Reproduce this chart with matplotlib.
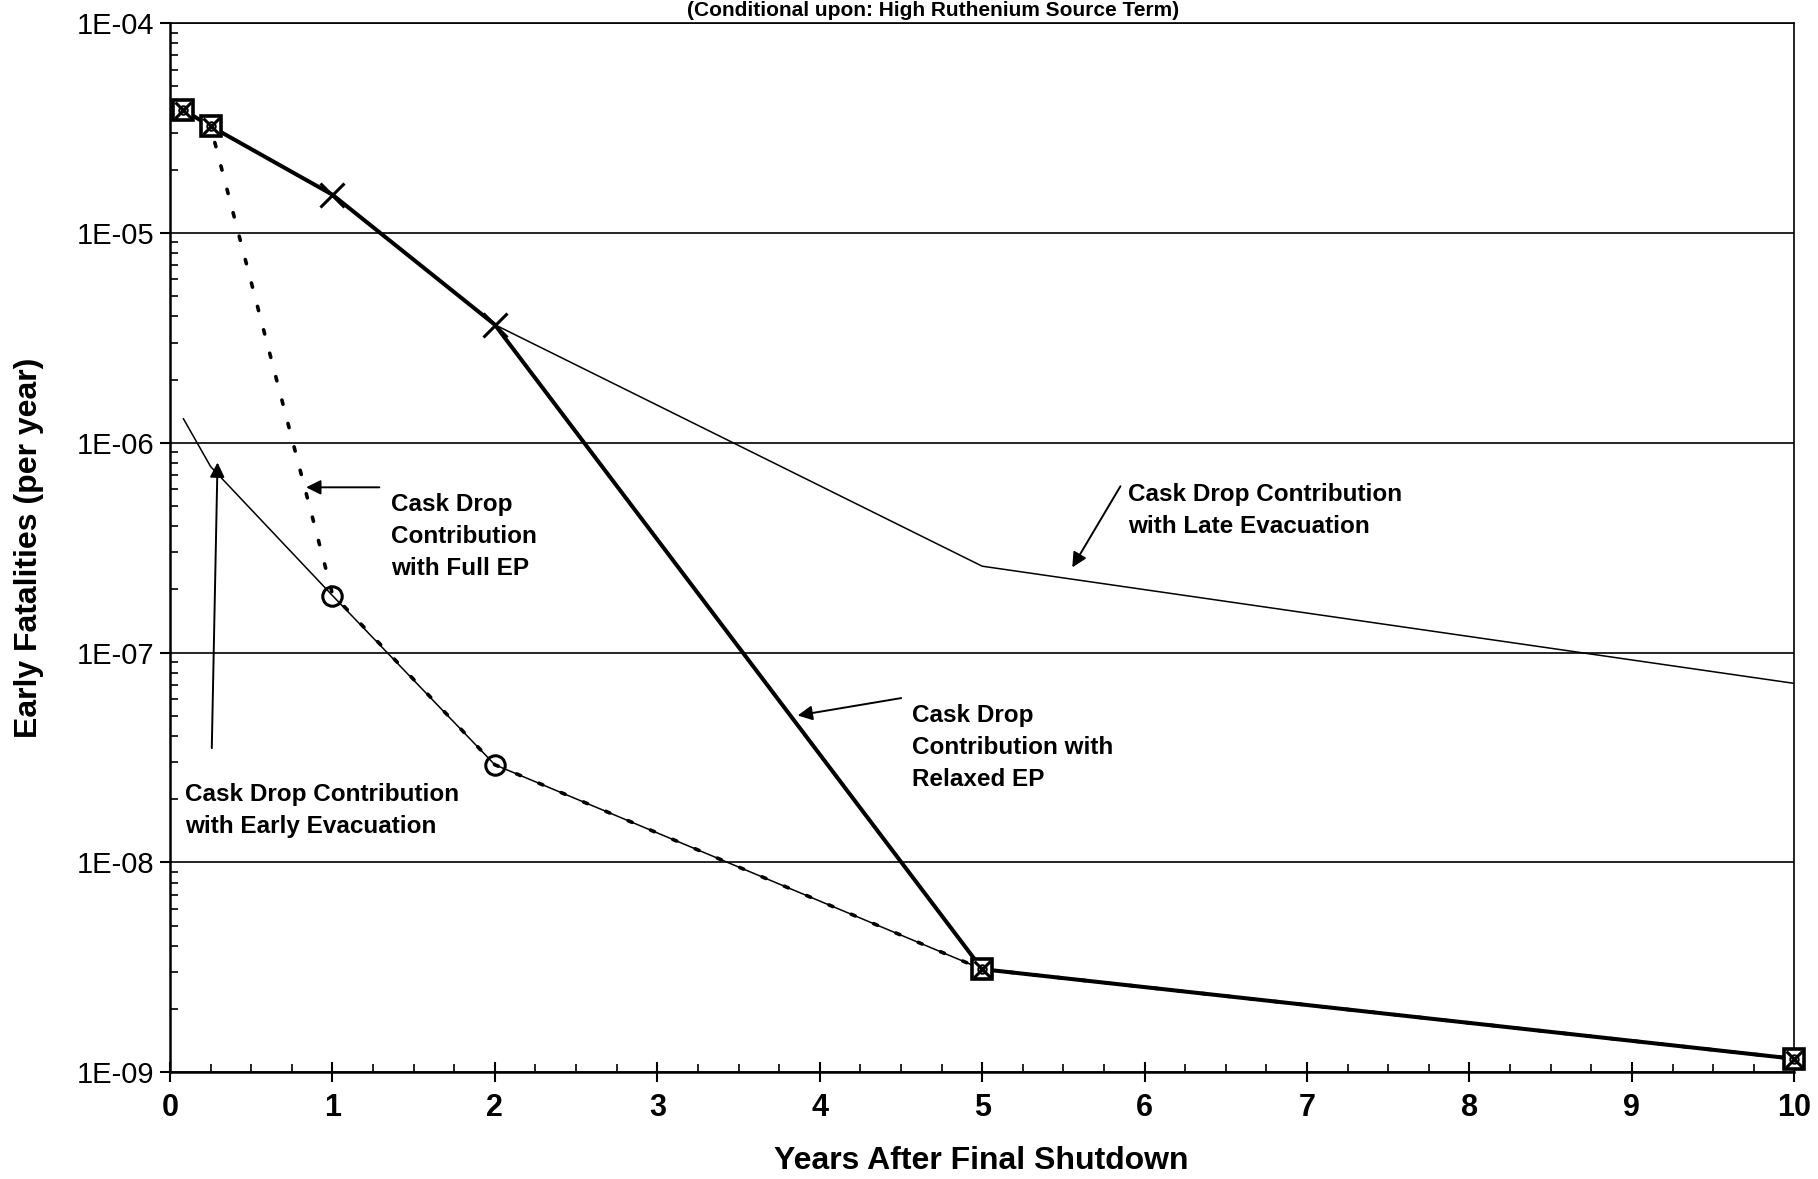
import numpy as np
import matplotlib
matplotlib.use("Agg")
import matplotlib.pyplot as plt
from matplotlib.ticker import FixedLocator, LogLocator, NullFormatter

plt.rcParams["font.family"] = ["Liberation Sans", "DejaVu Sans"]

# Years after final shutdown at which each case was evaluated
years = [0.083, 0.25, 1, 2, 5, 10]

# Early fatalities (per year) for each evacuation / EP case
relaxed_ep = [3.85e-5, 3.22e-5, 1.52e-5, 3.65e-6, 3.1e-9, 1.16e-9]
late_evac = [3.85e-5, 3.22e-5, 1.52e-5, 3.65e-6, 2.58e-7, 7.13e-8]
full_ep = [3.85e-5, 3.22e-5, 1.9e-7, 2.92e-8, 3.1e-9, 1.16e-9]
early_evac = [1.3e-6, 7.7e-7, 1.87e-7, 2.92e-8, 3.1e-9, 1.16e-9]

# points where the curves meet and carry the boxed marker
shared_idx = [0, 1, 4, 5]

x_ticks = [0, 1, 2, 3, 4, 5, 6, 7, 8, 9, 10]
y_ticks = [1e-9, 1e-8, 1e-7, 1e-6, 1e-5, 1e-4]
y_tick_labels = ["1E-09", "1E-08", "1E-07", "1E-06", "1E-05", "1E-04"]

fig = plt.figure(figsize=(18.18, 11.79), dpi=100)
ax = fig.add_axes([0.0935, 0.0905, 0.8935, 0.890])

# late evacuation (thin) and relaxed EP (thick)
ax.plot(years, late_evac, color="black", lw=1.1, zorder=3)
ax.plot(years, relaxed_ep, color="black", lw=2.9, zorder=4,
        marker="x", markevery=[2, 3], ms=17, mew=2.2)

# early evacuation with open circles
ax.plot(years, early_evac, color="black", lw=1.1, zorder=3,
        marker="o", markevery=[2, 3], ms=14, mfc="none", mew=2.2)

# full EP drawn as a heavy dotted line
ax.plot(years, full_ep, color="black", lw=2.6, zorder=5,
        linestyle=(0, (1.2, 5.5)), dash_capstyle="round")

# boxed markers on the shared points
sx = np.take(years, shared_idx)
sy = np.take(full_ep, shared_idx)
ax.plot(sx, sy, ls="none", marker="s", ms=15, mfc="white", mec="black", mew=2.6,
        zorder=6, clip_on=False)
ax.plot(sx, sy, ls="none", marker="x", ms=11, mec="black", mew=2.2, zorder=7, clip_on=False)
ax.plot(sx, sy, ls="none", marker="o", ms=6, mfc="none", mec="black", mew=1.5,
        zorder=7, clip_on=False)

ax.set_yscale("log")
ax.set_xlim(0, 10)
ax.set_ylim(1e-9, 1e-4)

ax.xaxis.set_major_locator(FixedLocator(x_ticks))
ax.xaxis.set_minor_locator(FixedLocator(np.arange(0, 10.01, 0.25)))
ax.set_xticklabels([str(t) for t in x_ticks], fontsize=22, fontweight="bold")

ax.yaxis.set_major_locator(FixedLocator(y_ticks))
ax.yaxis.set_minor_locator(LogLocator(base=10, subs=np.arange(2, 10)))
ax.yaxis.set_minor_formatter(NullFormatter())
ax.set_yticklabels(y_tick_labels, fontsize=21)

ax.tick_params(axis="x", which="major", direction="inout", length=14, width=1.5, pad=8)
ax.tick_params(axis="x", which="minor", direction="in", length=6, width=1.2)
ax.tick_params(axis="y", which="major", direction="out", length=7, width=1.5, pad=4)
ax.tick_params(axis="y", which="minor", direction="in", length=6, width=1.2)

ax.grid(True, axis="y", which="major", color="black", lw=1.2)
for side, spine in ax.spines.items():
    spine.set_linewidth(1.8 if side in ("left", "bottom") else 1.2)

# callouts
arrow = dict(arrowstyle="-|>", color="black", lw=1.4, mutation_scale=22)
label_kw = dict(fontsize=17.5, fontweight="bold", va="top", ha="left", linespacing=1.5)

ax.annotate("", xy=(0.821, 6.13e-7), xytext=(1.306, 6.13e-7), arrowprops=arrow)
ax.text(1.363, 5.75e-7, "Cask Drop\nContribution\nwith Full EP", **label_kw)

ax.annotate("", xy=(0.293, 8.3e-7), xytext=(0.257, 3.4e-8), arrowprops=arrow)
ax.text(0.093, 2.38e-8, "Cask Drop Contribution\nwith Early Evacuation", **label_kw)

ax.annotate("", xy=(3.847, 4.99e-8), xytext=(4.518, 6.1e-8), arrowprops=arrow)
ax.text(4.568, 5.7e-8, "Cask Drop\nContribution with\nRelaxed EP", **label_kw)

ax.annotate("", xy=(5.546, 2.48e-7), xytext=(5.86, 6.37e-7), arrowprops=arrow)
ax.text(5.896, 6.4e-7, "Cask Drop Contribution\nwith Late Evacuation", **label_kw)

fig.text(0.513, 0.999, "(Conditional upon: High Ruthenium Source Term)",
         ha="center", va="top", fontsize=15, fontweight="bold")
fig.text(0.016, 0.535, "Early Fatalities (per year)", rotation=90,
         ha="center", va="center", fontsize=23, fontweight="bold")
fig.text(0.540, 0.0155, "Years After Final Shutdown",
         ha="center", va="center", fontsize=23, fontweight="bold")

fig.savefig("out.png", dpi=100)
